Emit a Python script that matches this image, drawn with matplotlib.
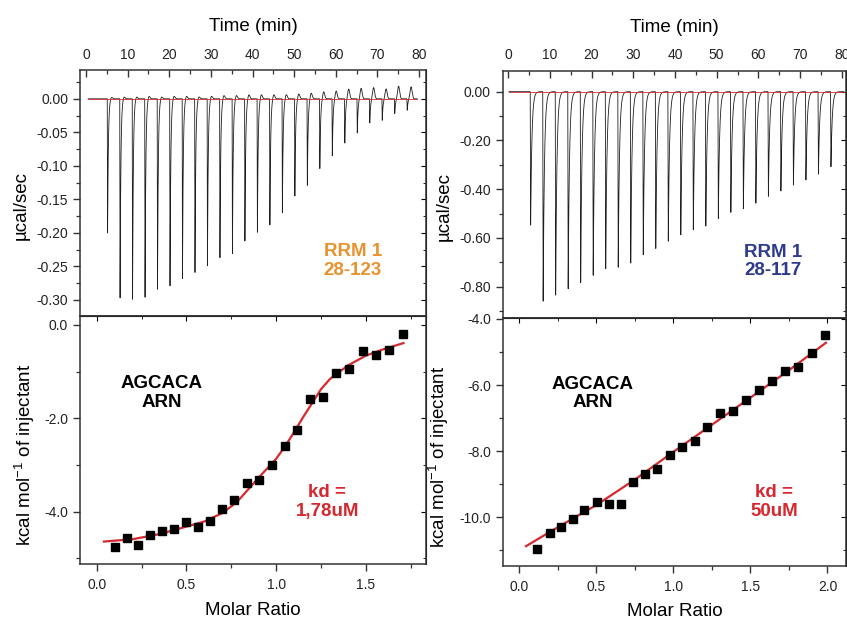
import numpy as np
import matplotlib.pyplot as plt
from matplotlib.ticker import MultipleLocator, FormatStrFormatter

plt.rcParams['font.family'] = ['Liberation Sans', 'DejaVu Sans']
plt.rcParams['mathtext.fontset'] = 'custom'
plt.rcParams['mathtext.rm'] = 'Liberation Sans'
plt.rcParams['mathtext.it'] = 'Liberation Sans:italic'

# ---- raw thermograms (injection times in min, peak heights in ucal/sec)
inj_left = [5.1, 8.1, 11.1, 14.1, 17.1, 20.1, 23.1, 26.1, 29.1, 32.1, 35.1, 38.1, 41.1,
            44.1, 47.1, 50.1, 53.1, 56.1, 59.1, 62.1, 65.1, 68.1, 71.1, 74.1, 77.1]
peak_left = [-0.200, -0.297, -0.299, -0.296, -0.284, -0.279, -0.268, -0.259, -0.249,
             -0.237, -0.231, -0.212, -0.199, -0.188, -0.170, -0.145, -0.129, -0.104,
             -0.085, -0.066, -0.051, -0.036, -0.032, -0.022, -0.017]
bump_left = [0.003, 0.004, 0.004, 0.005, 0.004, 0.005, 0.005, 0.004, 0.005, 0.006,
             0.006, 0.007, 0.007, 0.007, 0.007, 0.008, 0.009, 0.011, 0.012, 0.015,
             0.016, 0.017, 0.015, 0.019, 0.018]

inj_right = [5.3, 8.3, 11.3, 14.3, 17.3, 20.3, 23.3, 26.3, 29.3, 32.3, 35.3, 38.3, 41.3,
             44.3, 47.3, 50.3, 53.3, 56.3, 59.3, 62.3, 65.3, 68.3, 71.3, 74.3, 77.3]
peak_right = [-0.547, -0.859, -0.834, -0.808, -0.783, -0.753, -0.726, -0.720, -0.703,
              -0.669, -0.643, -0.613, -0.587, -0.566, -0.551, -0.520, -0.495, -0.480,
              -0.457, -0.429, -0.407, -0.383, -0.362, -0.338, -0.308]

# ---- integrated heats (kcal/mol of injectant)
ratio_left = [0.102, 0.167, 0.232, 0.299, 0.364, 0.430, 0.498, 0.563, 0.630, 0.700,
              0.767, 0.838, 0.907, 0.978, 1.047, 1.117, 1.190, 1.260, 1.335, 1.407,
              1.483, 1.556, 1.628, 1.705]
heat_left = [-4.75, -4.56, -4.72, -4.50, -4.42, -4.38, -4.22, -4.32, -4.20, -3.95,
             -3.75, -3.38, -3.33, -3.01, -2.59, -2.26, -1.58, -1.55, -1.04, -0.94,
             -0.57, -0.64, -0.54, -0.19]
fitx_left = [0.04, 0.2, 0.35, 0.5, 0.6, 0.7, 0.78, 0.85, 0.92, 1.0, 1.05, 1.1, 1.15,
             1.2, 1.25, 1.3, 1.4, 1.5, 1.6, 1.71]
fity_left = [-4.64, -4.59, -4.48, -4.32, -4.21, -4.03, -3.80, -3.50, -3.20, -2.87,
             -2.60, -2.30, -1.98, -1.68, -1.38, -1.16, -0.87, -0.66, -0.52, -0.39]

ratio_right = [0.119, 0.199, 0.274, 0.350, 0.424, 0.504, 0.582, 0.659, 0.737, 0.817,
               0.895, 0.977, 1.057, 1.139, 1.221, 1.303, 1.386, 1.470, 1.554, 1.639,
               1.727, 1.811, 1.898, 1.984]
heat_right = [-10.95, -10.47, -10.30, -10.05, -9.77, -9.53, -9.60, -9.58, -8.93, -8.69,
              -8.54, -8.11, -7.88, -7.70, -7.28, -6.83, -6.79, -6.45, -6.14, -5.87,
              -5.58, -5.46, -5.02, -4.49]
fitx_right = [0.045, 0.25, 0.5, 0.75, 1.0, 1.25, 1.5, 1.75, 1.99]
fity_right = [-10.87, -10.30, -9.63, -8.86, -8.02, -7.20, -6.38, -5.55, -4.72]


def thermogram(t, times, peaks, bumps, width, tau):
    y = np.zeros_like(t)
    for t0, d, b in zip(times, peaks, bumps):
        s = t - t0
        m = (s >= 0) & (s < width)
        y[m] += d * s[m] / width
        m = s >= width
        y[m] += d * np.exp(-(s[m] - width) / tau)
        y += b * np.exp(-((s - 1.0) / 0.35) ** 2)
    return y


RED = '#d6282e'
TRACE = '#1e1e1e'
FS_LABEL = 13.5
FS_NOTE = 13.5


def style_top(ax):
    ax.xaxis.tick_top()
    ax.xaxis.set_label_position('top')
    ax.tick_params(axis='x', which='both', direction='in', top=True, bottom=False,
                   labeltop=True, labelbottom=False)
    ax.tick_params(axis='x', which='major', pad=6)
    ax.tick_params(axis='y', which='both', direction='out', left=True, right=False)
    sec = ax.secondary_yaxis('right')
    sec.tick_params(which='both', direction='in', labelright=False)
    sec.yaxis.set_major_locator(ax.yaxis.get_major_locator())
    sec.yaxis.set_minor_locator(ax.yaxis.get_minor_locator())


def style_bottom(ax):
    ax.tick_params(axis='x', which='both', direction='out', top=False, bottom=True)
    ax.tick_params(axis='x', which='major', pad=5)
    ax.tick_params(axis='y', which='both', direction='out', left=True, right=False)
    sec = ax.secondary_yaxis('right')
    sec.tick_params(which='both', direction='in', labelright=False)
    sec.yaxis.set_major_locator(ax.yaxis.get_major_locator())
    sec.yaxis.set_minor_locator(ax.yaxis.get_minor_locator())
    secx = ax.secondary_xaxis('top')
    secx.tick_params(which='both', direction='in', labeltop=False)
    secx.xaxis.set_major_locator(ax.xaxis.get_major_locator())
    secx.xaxis.set_minor_locator(ax.xaxis.get_minor_locator())


def common(ax):
    for sp in ax.spines.values():
        sp.set_linewidth(1.1)
        sp.set_color('#333333')
    ax.tick_params(which='major', length=5, width=1.0, labelsize=10, colors='#333333',
                   labelcolor='#222222')
    ax.tick_params(which='minor', length=3, width=0.9, colors='#333333')


fig = plt.figure(figsize=(8.47, 6.19), dpi=100)

ax_lt = fig.add_axes([0.0945, 0.4895, 0.4085, 0.3974])
ax_lb = fig.add_axes([0.0945, 0.0889, 0.4085, 0.4006])
ax_rt = fig.add_axes([0.5935, 0.4863, 0.4053, 0.3995])
ax_rb = fig.add_axes([0.5935, 0.0861, 0.4053, 0.4002])

# ---- left thermogram
t_l = np.arange(0.5, 79.6, 0.005)
ax_lt.plot(t_l, thermogram(t_l, inj_left, peak_left, bump_left, 0.08, 0.18),
           color=TRACE, lw=0.6)
ax_lt.plot([0.5, 79.6], [0, 0], color=RED, lw=0.6)
ax_lt.set_xlim(-1.44, 81.7)
ax_lt.set_ylim(-0.324, 0.043)
ax_lt.xaxis.set_major_locator(MultipleLocator(10))
ax_lt.xaxis.set_minor_locator(MultipleLocator(5))
ax_lt.yaxis.set_major_locator(MultipleLocator(0.05))
ax_lt.yaxis.set_minor_locator(MultipleLocator(0.025))
ax_lt.yaxis.set_major_formatter(FormatStrFormatter('%.2f'))
ax_lt.set_xlabel('Time (min)', fontsize=FS_LABEL, labelpad=12)
ax_lt.set_ylabel('µcal/sec', fontsize=FS_LABEL)
ax_lt.yaxis.set_label_coords(-0.145, 0.45)
style_top(ax_lt)
common(ax_lt)
ax_lt.text(0.788, 0.224, 'RRM 1\n28-123', transform=ax_lt.transAxes, ha='center',
           va='center', color='#e8922e', fontsize=FS_NOTE, fontweight='bold', linespacing=1.1)

# ---- left isotherm
ax_lb.plot(fitx_left, fity_left, color=RED, lw=1.6, zorder=2)
ax_lb.plot(ratio_left, heat_left, 's', color='black', ms=6, zorder=3)
ax_lb.set_xlim(-0.093, 1.836)
ax_lb.set_ylim(-5.12, 0.19)
ax_lb.xaxis.set_major_locator(MultipleLocator(0.5))
ax_lb.xaxis.set_minor_locator(MultipleLocator(0.25))
ax_lb.yaxis.set_major_locator(MultipleLocator(2))
ax_lb.yaxis.set_minor_locator(MultipleLocator(1))
ax_lb.xaxis.set_major_formatter(FormatStrFormatter('%.1f'))
ax_lb.yaxis.set_major_formatter(FormatStrFormatter('%.1f'))
ax_lb.set_xlabel('Molar Ratio', fontsize=FS_LABEL, labelpad=7)
ax_lb.set_ylabel('kcal mol$^{-1}$ of injectant', fontsize=FS_LABEL)
ax_lb.yaxis.set_label_coords(-0.125, 0.44)
style_bottom(ax_lb)
common(ax_lb)
ax_lb.text(0.235, 0.69, 'AGCACA\nARN', transform=ax_lb.transAxes, ha='center',
           va='center', color='black', fontsize=FS_NOTE, fontweight='bold', linespacing=1.1)
ax_lb.text(0.715, 0.25, 'kd =\n1,78uM', transform=ax_lb.transAxes, ha='center',
           va='center', color=RED, fontsize=FS_NOTE, fontweight='bold', linespacing=1.1)

# ---- right thermogram
t_r = np.arange(0.2, 80.5, 0.005)
ax_rt.plot(t_r, thermogram(t_r, inj_right, peak_right, [0] * len(peak_right), 0.1, 0.3),
           color=TRACE, lw=0.6)
ax_rt.plot([0.2, 80.5], [0, 0], color=RED, lw=0.6)
ax_rt.set_xlim(-1.3, 81.0)
ax_rt.set_ylim(-0.928, 0.086)
ax_rt.xaxis.set_major_locator(MultipleLocator(10))
ax_rt.xaxis.set_minor_locator(MultipleLocator(5))
ax_rt.yaxis.set_major_locator(MultipleLocator(0.2))
ax_rt.yaxis.set_minor_locator(MultipleLocator(0.1))
ax_rt.yaxis.set_major_formatter(FormatStrFormatter('%.2f'))
ax_rt.set_xlabel('Time (min)', fontsize=FS_LABEL, labelpad=12)
ax_rt.set_ylabel('µcal/sec', fontsize=FS_LABEL)
ax_rt.yaxis.set_label_coords(-0.145, 0.45)
style_top(ax_rt)
common(ax_rt)
ax_rt.text(0.788, 0.229, 'RRM 1\n28-117', transform=ax_rt.transAxes, ha='center',
           va='center', color='#2e3a8c', fontsize=FS_NOTE, fontweight='bold', linespacing=1.1)

# ---- right isotherm
ax_rb.plot(fitx_right, fity_right, color=RED, lw=1.6, zorder=2)
ax_rb.plot(ratio_right, heat_right, 's', color='black', ms=6, zorder=3)
ax_rb.set_xlim(-0.106, 2.12)
ax_rb.set_ylim(-11.46, -3.97)
ax_rb.xaxis.set_major_locator(MultipleLocator(0.5))
ax_rb.xaxis.set_minor_locator(MultipleLocator(0.25))
ax_rb.yaxis.set_major_locator(MultipleLocator(2))
ax_rb.yaxis.set_minor_locator(MultipleLocator(1))
ax_rb.xaxis.set_major_formatter(FormatStrFormatter('%.1f'))
ax_rb.yaxis.set_major_formatter(FormatStrFormatter('%.1f'))
ax_rb.set_xlabel('Molar Ratio', fontsize=FS_LABEL, labelpad=7)
ax_rb.set_ylabel('kcal mol$^{-1}$ of injectant', fontsize=FS_LABEL)
ax_rb.yaxis.set_label_coords(-0.15, 0.44)
style_bottom(ax_rb)
common(ax_rb)
ax_rb.text(0.262, 0.696, 'AGCACA\nARN', transform=ax_rb.transAxes, ha='center',
           va='center', color='black', fontsize=FS_NOTE, fontweight='bold', linespacing=1.1)
ax_rb.text(0.791, 0.257, 'kd =\n50uM', transform=ax_rb.transAxes, ha='center',
           va='center', color=RED, fontsize=FS_NOTE, fontweight='bold', linespacing=1.1)

fig.savefig('out.png', dpi=100)
